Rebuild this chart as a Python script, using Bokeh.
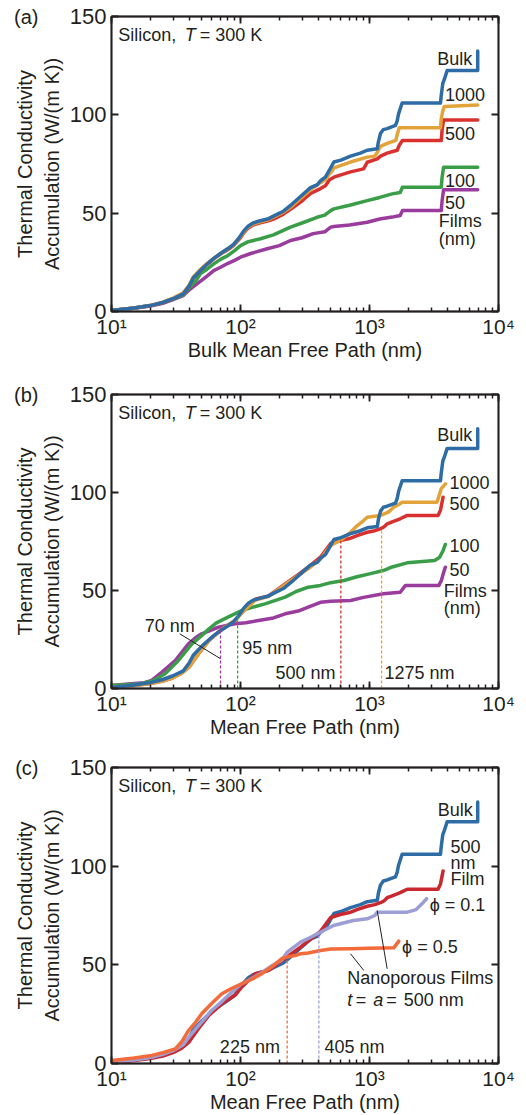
from bokeh.plotting import figure
from bokeh.layouts import column
from bokeh.models import (LogAxis, LinearAxis, CustomJSTickFormatter, FixedTicker,
                          LogTicker, ColumnDataSource, Range1d)
from bokeh.core.properties import value
from bokeh.embed import file_html
from bokeh.resources import INLINE

FONT = "Liberation Sans"
INK = "#231f20"

C_BULK = "#2e6ca5"
C_1000 = "#e3a33b"
C_500 = "#d93030"
C_100 = "#3a9e48"
C_50 = "#9a3b9e"
C_P01 = "#9c9ed4"
C_P05 = "#f36b3a"
C_500C = "#c9282f"

# ---------------- data ----------------
bulk_x = [10, 15, 20, 25, 30, 36, 40, 43, 50, 55, 62, 70, 80, 88, 95, 100, 106, 115, 125, 140,
          162, 180, 215, 250, 292, 349, 395, 417, 455, 490, 514, 530, 600, 713, 850, 960, 1150,
          1170, 1217, 1280, 1371, 1590, 1640, 1680, 1790, 3550, 3600, 3700, 3800, 4000, 6900, 6900]
bulk_y = [0.5, 1.8, 3, 4.6, 6.5, 9, 13, 17, 21.5, 24, 27, 29.5, 32, 34, 36.5, 38.5, 41, 43.5, 45, 46,
          47, 48.5, 51, 54.5, 58.5, 63, 64.5, 66.5, 68.3, 72, 74.5, 76, 77, 79, 80.5, 82, 82.7,
          86, 90.5, 92.5, 93, 94.6, 97, 100.5, 106, 106, 110, 116, 118, 122.5, 122.5, 132.5]

# (a) films vs bulk mean free path
f1000_a_x = [10, 15, 20, 25, 30, 36, 40, 43, 50, 55, 62, 70, 80, 88, 100, 106, 115, 125, 140, 162,
             180, 215, 250, 292, 349, 417, 455, 490, 514, 530, 713, 960, 1100, 1150, 1217, 1371,
             1600, 1640, 1700, 3550, 3600, 3700, 3800, 6900]
f1000_a_y = [0.5, 1.8, 3, 4.8, 6.8, 9.5, 13.5, 17.5, 22, 24.5, 27, 29.5, 32, 34, 38, 40.5, 43, 44.5,
             45.5, 46.5, 48, 50.5, 53.5, 57.5, 62, 65.5, 67, 70, 71.5, 73, 76, 78.5, 79, 81, 84,
             85.5, 87, 90, 93.4, 93.4, 98, 102, 104.2, 105]
f500_a_x = [10, 15, 20, 25, 30, 36, 40, 43, 50, 55, 62, 70, 80, 88, 100, 106, 115, 125, 140, 162,
            180, 215, 250, 292, 349, 417, 455, 490, 530, 600, 713, 900, 960, 1150, 1217, 1371,
            1640, 1700, 1800, 3600, 3650, 3750, 6900]
f500_a_y = [0.5, 1.8, 3, 4.6, 6.5, 9, 13, 17, 21.5, 24, 26.8, 29.2, 31.5, 33.5, 37.5, 40, 42.5, 44,
            45, 46, 47, 49.5, 52.5, 55.6, 60, 62.5, 64, 67, 68.3, 69.5, 71, 72.5, 75.9, 77.6, 79,
            80.5, 82, 84.5, 86.9, 86.9, 92, 97.4, 97.4]
f100_a_x = [10, 15, 20, 25, 30, 36, 40, 45, 49, 55, 62, 70, 80, 90, 100, 115, 143, 180, 244, 300,
            392, 450, 500, 530, 700, 960, 1200, 1500, 1730, 1800, 3600, 3650, 3750, 6900]
f100_a_y = [0.5, 1.8, 3, 4.5, 6.3, 8.5, 12, 15.5, 19.3, 21.5, 24.2, 26.5, 28.5, 31, 33.5, 35.5, 37,
            39, 42.9, 45, 47.9, 49, 51.3, 52.2, 54, 56.4, 58, 59.8, 60.5, 63.2, 63.2, 68, 73.4, 73.4]
f50_a_x = [10, 15, 20, 25, 30, 36, 40, 46, 55, 62, 70, 80, 90, 100, 120, 161, 200, 244, 300, 366,
           450, 500, 530, 700, 960, 1200, 1500, 1730, 1800, 3600, 3650, 3750, 6900]
f50_a_y = [0.5, 1.7, 2.8, 4.2, 6, 8.1, 11, 14, 18, 20.8, 22.5, 24.5, 26, 27.6, 29.5, 31.9, 33.5,
           36.1, 37.5, 39.6, 40.5, 42.9, 43.2, 44, 45.4, 47, 48, 48.8, 51.3, 51.3, 56, 61.9, 61.9]

# (b) films vs their own mean free path
f1000_b_x = [10, 15, 20, 25, 30, 35, 40, 47, 57, 72, 91, 102, 130, 165, 222, 292, 350, 417, 500,
             593, 713, 800, 900, 960, 1217, 1400, 1540, 1700, 1790, 3330, 3450, 3600, 3880]
f1000_b_y = [0.5, 1.5, 2.5, 3.8, 5.5, 7.8, 11, 17.5, 24.5, 30.4, 34.7, 38.5, 45, 47, 53, 58.5, 62,
             66, 73, 75.5, 79.7, 83, 85.7, 87.4, 88.3, 90, 92.5, 94, 95, 95, 98, 102, 104.4]
f500_b_x = [10, 15, 20, 25, 30, 35, 40, 47, 57, 72, 91, 102, 130, 165, 222, 292, 350, 417, 500,
            593, 700, 800, 960, 1100, 1217, 1300, 1371, 1500, 1730, 1960, 3400, 3550, 3720]
f500_b_y = [0.5, 1.5, 2.5, 3.8, 5.5, 7.8, 11, 17.5, 24.5, 30.4, 34.7, 38.7, 45.5, 47.2, 53.4, 59,
            63, 67, 74, 75.5, 76.5, 78, 79.7, 80.5, 81.5, 82.5, 84, 85, 86.6, 88.3, 88.3, 91, 97.6]
f100_b_x = [10, 14, 17, 21, 26, 33, 42, 50, 57, 65, 80, 102, 125, 155, 222, 270, 335, 417, 500,
            633, 800, 1000, 1280, 1500, 1960, 3200, 3500, 3700, 3870]
f100_b_y = [1.5, 2, 2.4, 4, 7.5, 14.3, 22.8, 27, 30.4, 33.5, 36.4, 39.8, 41.5, 43.2, 46.6, 49.5,
            51.7, 52.6, 54, 55.1, 57, 58.5, 60.2, 62, 64.1, 65.3, 67, 70, 73.5]
f50_b_x = [10, 15, 18, 20.5, 24.5, 31.2, 39.5, 45, 50, 58, 67.4, 80, 91, 110, 138, 180, 222, 280,
           335, 417, 500, 713, 900, 1280, 1730, 1900, 3450, 3600, 3750, 3870]
f50_b_y = [1.5, 2.5, 3, 4.1, 8.3, 14.3, 22.8, 26, 27.9, 29.5, 31.3, 32.3, 33, 33.5, 34.7, 36, 38.1,
           39.5, 41.5, 44, 44.5, 44.9, 46.5, 48.3, 49.1, 52.6, 52.6, 55, 59, 61.9]

# (c) nanoporous films
p01_x = [10, 15, 20, 25, 30, 36, 40, 45, 50, 60, 72, 85, 100, 125, 146, 175, 209, 230, 292, 350,
         417, 526, 750, 960, 1100, 1150, 1960, 2300, 2550, 2770]
p01_y = [1, 1.8, 3, 4.6, 6.5, 9.5, 13.5, 17.5, 21, 27, 31.5, 36, 40, 43.5, 46, 49.5, 52.5, 56.4,
         61.5, 64, 66.5, 69.9, 72.5, 73.3, 75, 76.7, 76.7, 78, 80.9, 83.5]
p05_x = [10, 15, 20.5, 25, 31.2, 35, 39.5, 45, 50, 60, 71.7, 85, 102, 125, 146, 175, 209, 230, 265,
         292, 335, 417, 500, 713, 1000, 1540, 1600, 1687]
p05_y = [1.5, 2.8, 4.1, 5.5, 7.4, 11, 16.7, 21, 25.2, 30.5, 35.3, 38, 40.4, 43, 45.5, 49, 53.1, 54,
         54.7, 55.6, 56, 57.3, 58, 58.1, 58.4, 58.6, 60, 62]

# marker (dashed) lines
b_mark_x = [70, 95, 600, 1240]
b_mark_top = [31.3, 37.5, 75.5, 81.5]
b_mark_col = [C_50, C_100, C_500, C_1000]
c_mark_x = [230, 405]
c_mark_top = [53.5, 65.7]
c_mark_col = [C_P05, C_P01]

# text annotations
a_text = ["Bulk", "1000", "500", "100", "50", "Films", "(nm)"]
a_tx = [3350, 3840, 3840, 3840, 3840, 3445, 3445]
a_ty = [128.5, 110.3, 90.6, 66.6, 55.6, 45.9, 37]

b_text = ["Bulk", "1000", "500", "100", "50", "Films", "(nm)", "70 nm", "95 nm", "500 nm", "1275 nm"]
b_tx = [3350, 4170, 4170, 4170, 4170, 3770, 3770, 18.1, 103, 187, 1306]
b_ty = [129.1, 104.9, 94.2, 73, 60.7, 50, 41.2, 32.1, 20.8, 7.8, 7.8]

c_text = ["Bulk", "500", "nm", "Film", "\u03d5 = 0.1", "\u03d5 = 0.5", "Nanoporous Films", "225 nm", "405 nm"]
c_tx = [3380, 4250, 4250, 4250, 2930, 1790, 671, 69.2, 448]
c_ty = [128.7, 110, 101.5, 93.6, 80.4, 58.9, 43.2, 8.6, 8.6]

ta_parts = ["t", "=", "a", "=", "500 nm"]
ta_off = [0, 8.5, 26, 39, 56.5]
ta_style = ["italic", "normal", "italic", "normal", "normal"]
ta_x, ta_y = 671, 32.3

sil_parts = ["Silicon,", "T", "= 300 K"]
sil_off = [0, 66.6, 81.5]
sil_style = ["normal", "italic", "normal"]
sil_x, sil_y = 11.27, 140.7

letters = ["(a)", "(b)", "(c)"]

b_lead_x, b_lead_y = [33.8, 70], [27.9, 15.2]
c_lead1_x, c_lead1_y = [713, 904], [55.6, 47.1]
c_lead2_x, c_lead2_y = [1148, 1371], [77.5, 48]

Y_TICKS = [0, 50, 100, 150]
Y_LABEL = "Thermal Conductivity\nAccumulation (W/(m K))"

SUP_CODE = """
const s = {1: "\u00b9", 2: "\u00b2", 3: "\u00b3", 4: "\u2074"};
const e = Math.round(Math.log10(tick));
return "10" + s[e];
"""


def style_axis(ax, labels=True, minor=True):
    ax.axis_line_color = INK
    ax.axis_line_width = 1.8
    ax.major_tick_line_color = INK
    ax.major_tick_line_width = 1.8
    ax.major_tick_in = 7
    ax.major_tick_out = 0
    if minor:
        ax.minor_tick_line_color = INK
        ax.minor_tick_line_width = 1.5
        ax.minor_tick_in = 4
        ax.minor_tick_out = 0
    else:
        ax.minor_tick_line_color = None
    ax.major_label_text_font = FONT
    ax.major_label_text_font_size = "21px"
    ax.major_label_text_color = INK
    ax.major_label_text_line_height = 1.0
    ax.axis_label_text_font = FONT
    ax.axis_label_text_font_size = "20px"
    ax.axis_label_text_font_style = "normal"
    ax.axis_label_text_color = INK
    if not labels:
        ax.formatter = CustomJSTickFormatter(code="return ' ';")
        ax.major_label_text_font_size = "1px"
        ax.major_label_standoff = 0


def make_fig(h, top, bottom, xlabel, idx):
    p = figure(width=526, height=h, x_axis_type="log", x_range=Range1d(10, 1e4),
               y_range=Range1d(0, 150), output_backend="svg", toolbar_location=None,
               min_border_left=111, min_border_right=28, min_border_top=top,
               min_border_bottom=bottom)
    p.xgrid.visible = False
    p.ygrid.visible = False
    p.outline_line_color = INK
    p.outline_line_width = 1.5

    xa = p.xaxis[0]
    xa.ticker = LogTicker(num_minor_ticks=10)
    xa.formatter = CustomJSTickFormatter(code=SUP_CODE)
    style_axis(xa)
    xa.major_label_standoff = 3
    xa.axis_label = xlabel
    xa.axis_label_standoff = -2
    xa.axis_label_text_line_height = 1.0

    ya = p.yaxis[0]
    ya.ticker = FixedTicker(ticks=Y_TICKS)
    style_axis(ya, minor=False)
    ya.major_label_text_font_size = "22px"
    ya.major_label_standoff = 5
    ya.axis_label = Y_LABEL
    ya.axis_label_standoff = 4

    # panel letter drawn as the single tick label of an outer, line-less axis
    la = LinearAxis(ticker=FixedTicker(ticks=[150]),
                    formatter=CustomJSTickFormatter(code="return '%s';" % letters[idx]))
    la.axis_line_color = None
    la.major_tick_line_color = None
    la.minor_tick_line_color = None
    la.major_tick_in = 0
    la.major_tick_out = 0
    la.major_label_standoff = -27
    la.major_label_text_font = FONT
    la.major_label_text_font_size = "20px"
    la.major_label_text_color = INK
    p.add_layout(la, "left")

    xt = LogAxis(ticker=LogTicker(num_minor_ticks=10))
    style_axis(xt, labels=False)
    p.add_layout(xt, "above")

    yr = LinearAxis(ticker=FixedTicker(ticks=Y_TICKS))
    style_axis(yr, labels=False, minor=False)
    p.add_layout(yr, "right")

    src = ColumnDataSource(dict(x=[sil_x] * 3, y=[sil_y] * 3, t=sil_parts, o=sil_off, s=sil_style))
    p.text(x="x", y="y", text="t", x_offset="o", text_font_style="s", source=src,
           text_font=value(FONT), text_font_size=value("18px"), text_color=INK,
           text_align="left", text_baseline="middle")
    return p


def add_curve(p, xs, ys, color):
    p.line(xs, ys, line_color=color, line_width=3.5, line_join="round", line_cap="round")


def add_texts(p, txt, xs, ys):
    p.text(x=xs, y=ys, text=txt, text_font=value(FONT), text_font_size=value("18px"),
           text_color=INK, text_align="left", text_baseline="middle")


# ---------- (a) ----------
pa = make_fig(372, 16, 61, "Bulk Mean Free Path (nm)", 0)
add_curve(pa, f50_a_x, f50_a_y, C_50)
add_curve(pa, f100_a_x, f100_a_y, C_100)
add_curve(pa, f500_a_x, f500_a_y, C_500)
add_curve(pa, f1000_a_x, f1000_a_y, C_1000)
add_curve(pa, bulk_x, bulk_y, C_BULK)
add_texts(pa, a_text, a_tx, a_ty)

# ---------- (b) ----------
pb = make_fig(372, 22, 56, "Mean Free Path (nm)", 1)
add_curve(pb, f50_b_x, f50_b_y, C_50)
add_curve(pb, f100_b_x, f100_b_y, C_100)
add_curve(pb, f500_b_x, f500_b_y, C_500)
add_curve(pb, f1000_b_x, f1000_b_y, C_1000)
add_curve(pb, bulk_x, bulk_y, C_BULK)
pb.segment(x0=b_mark_x, y0=[0] * len(b_mark_x), x1=b_mark_x, y1=b_mark_top,
           line_color=b_mark_col, line_width=1.3, line_dash="3 2")
pb.line(b_lead_x, b_lead_y, line_color=INK, line_width=1)
add_texts(pb, b_text, b_tx, b_ty)

# ---------- (c) ----------
pc = make_fig(371, 23, 52, "Mean Free Path (nm)", 2)
add_curve(pc, bulk_x, bulk_y, C_BULK)
add_curve(pc, f500_b_x, f500_b_y, C_500C)
add_curve(pc, p01_x, p01_y, C_P01)
add_curve(pc, p05_x, p05_y, C_P05)
pc.segment(x0=c_mark_x, y0=[0] * len(c_mark_x), x1=c_mark_x, y1=c_mark_top,
           line_color=c_mark_col, line_width=1.3, line_dash="3 2")
pc.line(c_lead1_x, c_lead1_y, line_color=INK, line_width=1)
pc.line(c_lead2_x, c_lead2_y, line_color=INK, line_width=1)
add_texts(pc, c_text, c_tx, c_ty)
src_ta = ColumnDataSource(dict(x=[ta_x] * 5, y=[ta_y] * 5, t=ta_parts, o=ta_off, s=ta_style))
pc.text(x="x", y="y", text="t", x_offset="o", text_font_style="s", source=src_ta,
        text_font=value(FONT), text_font_size=value("18px"), text_color=INK,
        text_align="left", text_baseline="middle")

layout = column(pa, pb, pc)
open("out.html", "w").write(file_html(layout, INLINE))
